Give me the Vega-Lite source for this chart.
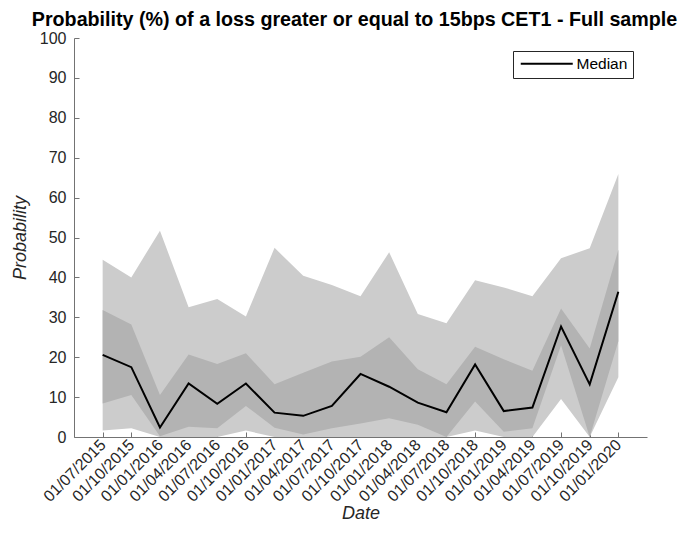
{
  "$schema": "https://vega.github.io/schema/vega-lite/v6.json",
  "width": 573,
  "height": 399,
  "autosize": {"type": "none"},
  "padding": {"left": 74, "top": 38, "right": 34, "bottom": 111},
  "background": "white",
  "title": {
    "text": "Probability (%) of a loss greater or equal to 15bps CET1 -  Full sample",
    "font": "Liberation Sans",
    "fontSize": 19.7,
    "fontWeight": "bold",
    "color": "#000000",
    "anchor": "middle",
    "frame": "group",
    "baseline": "alphabetic",
    "offset": 9,
    "dx": -6,
    "dy": 25
  },
  "config": {
    "view": {"stroke": null},
    "axis": {
      "domainColor": "#737373",
      "tickColor": "#737373",
      "labelColor": "#262626",
      "titleColor": "#262626",
      "labelFont": "Liberation Sans",
      "titleFont": "Liberation Sans",
      "labelFontSize": 16,
      "titleFontSize": 18,
      "titleFontStyle": "italic",
      "titleFontWeight": "normal",
      "grid": false,
      "tickSize": -5,
      "labelOverlap": false
    }
  },
  "data": {
    "values": [
      {"date": "01/07/2015", "lo_out": 1.6, "lo_in": 8.4, "med": 20.6, "hi_in": 31.8, "hi_out": 44.4},
      {"date": "01/10/2015", "lo_out": 2.2, "lo_in": 10.5, "med": 17.5, "hi_in": 28.2, "hi_out": 40.0},
      {"date": "01/01/2016", "lo_out": 0, "lo_in": 0.2, "med": 2.4, "hi_in": 10.5, "hi_out": 51.7},
      {"date": "01/04/2016", "lo_out": 0, "lo_in": 2.6, "med": 13.4, "hi_in": 20.7, "hi_out": 32.5},
      {"date": "01/07/2016", "lo_out": 0, "lo_in": 2.2, "med": 8.3, "hi_in": 18.3, "hi_out": 34.6},
      {"date": "01/10/2016", "lo_out": 1.6, "lo_in": 7.8, "med": 13.4, "hi_in": 21.0, "hi_out": 30.2},
      {"date": "01/01/2017", "lo_out": 0, "lo_in": 2.3, "med": 6.1, "hi_in": 13.2, "hi_out": 47.4},
      {"date": "01/04/2017", "lo_out": 0, "lo_in": 0.6, "med": 5.3, "hi_in": 16.1, "hi_out": 40.4},
      {"date": "01/07/2017", "lo_out": 0, "lo_in": 2.2, "med": 7.8, "hi_in": 18.9, "hi_out": 38.1},
      {"date": "01/10/2017", "lo_out": 0, "lo_in": 3.4, "med": 15.8, "hi_in": 20.1, "hi_out": 35.3},
      {"date": "01/01/2018", "lo_out": 0, "lo_in": 4.7, "med": 12.6, "hi_in": 25.0, "hi_out": 46.3},
      {"date": "01/04/2018", "lo_out": 0, "lo_in": 3.1, "med": 8.6, "hi_in": 17.0, "hi_out": 30.8},
      {"date": "01/07/2018", "lo_out": 0, "lo_in": 0, "med": 6.2, "hi_in": 13.2, "hi_out": 28.5},
      {"date": "01/10/2018", "lo_out": 1.6, "lo_in": 8.9, "med": 18.2, "hi_in": 22.6, "hi_out": 39.3},
      {"date": "01/01/2019", "lo_out": 0, "lo_in": 1.3, "med": 6.5, "hi_in": 19.5, "hi_out": 37.5},
      {"date": "01/04/2019", "lo_out": 0, "lo_in": 2.2, "med": 7.4, "hi_in": 16.6, "hi_out": 35.3},
      {"date": "01/07/2019", "lo_out": 9.5, "lo_in": 23.0, "med": 27.7, "hi_in": 32.2, "hi_out": 44.8},
      {"date": "01/10/2019", "lo_out": 0, "lo_in": 0, "med": 13.2, "hi_in": 22.2, "hi_out": 47.3},
      {"date": "01/01/2020", "lo_out": 15.0, "lo_in": 24.0, "med": 36.4, "hi_in": 46.9, "hi_out": 65.9}
    ]
  },
  "encoding": {
    "x": {
      "field": "date",
      "type": "ordinal",
      "sort": null,
      "scale": {"type": "point", "padding": 1},
      "axis": {
        "title": "Date",
        "labelAngle": -45,
        "labelAlign": "right",
        "labelBaseline": "middle",
        "labelPadding": 10,
        "labelOverlap": false,
        "titleY": 76,
        "titleBaseline": "middle"
      }
    }
  },
  "layer": [
    {
      "mark": {"type": "area", "color": "#cccccc", "opacity": 1},
      "encoding": {
        "y": {
          "field": "hi_out",
          "type": "quantitative",
          "scale": {"domain": [0, 100], "nice": false},
          "axis": {
            "title": "Probability",
            "values": [0, 10, 20, 30, 40, 50, 60, 70, 80, 90, 100],
            "tickCount": 11,
            "labelOverlap": false,
            "labelPadding": 13,
            "titleX": -54,
            "titleBaseline": "middle",
            "titleAngle": -90
          }
        },
        "y2": {"field": "lo_out"}
      }
    },
    {
      "mark": {"type": "area", "color": "#b3b3b3", "opacity": 1},
      "encoding": {
        "y": {
          "field": "hi_in",
          "type": "quantitative",
          "axis": {
            "title": "Probability",
            "values": [0, 10, 20, 30, 40, 50, 60, 70, 80, 90, 100],
            "tickCount": 11,
            "labelOverlap": false,
            "labelPadding": 13,
            "titleX": -54,
            "titleBaseline": "middle",
            "titleAngle": -90
          }
        },
        "y2": {"field": "lo_in"}
      }
    },
    {
      "mark": {"type": "line", "strokeWidth": 2},
      "encoding": {
        "y": {
          "field": "med",
          "type": "quantitative",
          "axis": {
            "title": "Probability",
            "values": [0, 10, 20, 30, 40, 50, 60, 70, 80, 90, 100],
            "tickCount": 11,
            "labelOverlap": false,
            "labelPadding": 13,
            "titleX": -54,
            "titleBaseline": "middle",
            "titleAngle": -90
          }
        },
        "color": {
          "datum": "Median",
          "type": "nominal",
          "scale": {"range": ["#000000"]},
          "legend": {
            "title": null,
            "orient": "none",
            "legendX": 439,
            "legendY": 13,
            "symbolType": "M-5.2,0H5.2",
            "symbolSize": 100,
            "symbolStrokeWidth": 2,
            "symbolOffset": 21,
            "labelFont": "Liberation Sans",
            "labelFontSize": 15.5,
            "labelColor": "#000000",
            "strokeColor": "#262626",
            "fillColor": "white",
            "padding": 5,
            "labelOffset": 22
          }
        }
      }
    }
  ]
}
